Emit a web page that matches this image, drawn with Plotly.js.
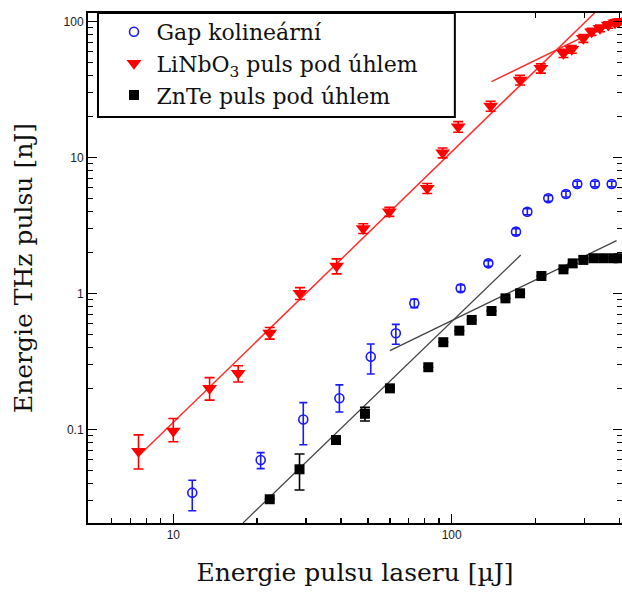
<!DOCTYPE html>
<html>
<head>
<meta charset="utf-8">
<script src="https://cdn.plot.ly/plotly-3.0.1.min.js"></script>
<style>html,body{margin:0;padding:0;background:#fff;}#chart{width:622px;height:592px;}</style>
</head>
<body>
<div id="chart"></div>
<script>
// Gap kolineární (blue open circles)
const gapX = [11.7, 20.6, 29.3, 39.5, 51.2, 63, 73.4, 107.7, 135.4, 170.2, 186.9, 222.3, 257.3, 282.5, 327, 375.6];
const gapY = [0.0342, 0.0594, 0.118, 0.169, 0.342, 0.508, 0.844, 1.09, 1.66, 2.84, 3.98, 5.0, 5.37, 6.36, 6.36, 6.36];
const gapErrPlus = [0.008, 0.008, 0.039, 0.043, 0.082, 0.083, 0.06, 0.06, 0.08, 0.15, 0.2, 0.25, 0.27, 0.3, 0.3, 0.3];
const gapErrMinus = [0.009, 0.008, 0.041, 0.035, 0.087, 0.086, 0.06, 0.06, 0.08, 0.15, 0.2, 0.25, 0.27, 0.3, 0.3, 0.3];

// LiNbO3 puls pod úhlem (red triangles)
const linboX = [7.5, 10.0, 13.5, 17.1, 22.2, 28.5, 38.6, 48.1, 59.7, 81.7, 92.8, 105.5, 138, 176, 209, 252, 270, 297, 318, 341, 365, 386, 398];
const linboY = [0.069, 0.097, 0.20, 0.258, 0.51, 1.0, 1.59, 3.0, 3.98, 5.92, 10.8, 16.8, 23.8, 37.0, 45.1, 58.2, 62.2, 75, 83.8, 88.8, 94, 97.7, 99.3];
const linboErrPlus = [0.022, 0.023, 0.04, 0.035, 0.05, 0.1, 0.2, 0.25, 0.3, 0.5, 0.9, 1.5, 2, 3, 3.5, 4, 4, 5, 5, 5, 5, 5, 5];
const linboErrMinus = [0.018, 0.016, 0.036, 0.035, 0.05, 0.1, 0.2, 0.25, 0.3, 0.5, 0.9, 1.5, 2, 3, 3.5, 4, 4, 5, 5, 5, 5, 5, 5];

// ZnTe puls pod úhlem (black squares)
const znteX = [22.2, 28.4, 38.4, 48.8, 60, 82.4, 93.3, 106.5, 118, 139, 156, 176, 210, 252, 272, 297, 323, 350, 380, 398];
const znteY = [0.0306, 0.0508, 0.0834, 0.13, 0.2, 0.286, 0.437, 0.531, 0.637, 0.741, 0.918, 1.0, 1.34, 1.5, 1.66, 1.76, 1.81, 1.81, 1.81, 1.81];
const znteErr = [0, 0.015, 0, 0.015, 0, 0, 0, 0, 0, 0, 0, 0, 0, 0, 0, 0, 0, 0, 0, 0];

// fitted power-law lines (end points)
const redFit1X = [7.6, 330], redFit1Y = [0.0652, 118];
const redFit2X = [139, 409], redFit2Y = [36, 106];
const blackFit1X = [17.8, 177], blackFit1Y = [0.0205, 1.91];
const blackFit2X = [60, 391], blackFit2Y = [0.379, 2.44];

// ticks
const xTickVals = [10, 100];
const xTickText = ['10', '100'];
const xMinorVals = [6, 7, 8, 9, 20, 30, 40, 50, 60, 70, 80, 90, 200, 300, 400];
const yTickVals = [0.1, 1, 10, 100];
const yTickText = ['0.1', '1', '10', '100'];
const yMinorVals = [0.03, 0.04, 0.05, 0.06, 0.07, 0.08, 0.09, 0.2, 0.3, 0.4, 0.5, 0.6, 0.7, 0.8, 0.9, 2, 3, 4, 5, 6, 7, 8, 9, 20, 30, 40, 50, 60, 70, 80, 90];

const serif = 'DejaVu Serif';
const sans = 'Liberation Sans';

const traces = [
  {x: redFit1X, y: redFit1Y, mode: 'lines', line: {color: '#ff3030', width: 1.5}, showlegend: false, hoverinfo: 'skip'},
  {x: redFit2X, y: redFit2Y, mode: 'lines', line: {color: '#ff3030', width: 1.5}, showlegend: false, hoverinfo: 'skip'},
  {x: blackFit1X, y: blackFit1Y, mode: 'lines', line: {color: '#444', width: 1.3}, showlegend: false, hoverinfo: 'skip'},
  {x: blackFit2X, y: blackFit2Y, mode: 'lines', line: {color: '#444', width: 1.3}, showlegend: false, hoverinfo: 'skip'},
  {x: gapX, y: gapY, mode: 'markers', name: 'Gap kolineární', legendgroup: 'g1',
   marker: {symbol: 'circle-open', size: 9, color: '#1a1aff', line: {width: 1.6, color: '#1a1aff'}},
   error_y: {type: 'data', symmetric: false, array: gapErrPlus, arrayminus: gapErrMinus, color: '#1a1aff', thickness: 1.6, width: 4}},
  {x: linboX, y: linboY, mode: 'markers', name: 'LiNbO<sub>3</sub> puls pod úhlem', legendgroup: 'g2',
   marker: {symbol: 'triangle-down', size: 13, color: '#ff0000'},
   error_y: {type: 'data', symmetric: false, array: linboErrPlus, arrayminus: linboErrMinus, color: '#ff0000', thickness: 1.6, width: 5}},
  {x: znteX, y: znteY, mode: 'markers', name: 'ZnTe puls pod úhlem', legendgroup: 'g3',
   marker: {symbol: 'square', size: 10, color: '#000'},
   error_y: {type: 'data', array: znteErr, color: '#000', thickness: 1.6, width: 5}}
];

const layout = {
  width: 622, height: 592,
  margin: {l: 88, r: 0, t: 13, b: 69},
  paper_bgcolor: '#fff', plot_bgcolor: '#fff',
  font: {family: serif, color: '#111'},
  showlegend: true,
  shapes: [{type: 'rect', xref: 'paper', yref: 'paper', x0: 0.0187, x1: 0.687, y0: 0.796, y1: 1,
            line: {color: '#000', width: 2}, fillcolor: '#fff', layer: 'above'}],
  legend: {x: 0.0440, y: 1.004, xanchor: 'left', yanchor: 'top', bgcolor: 'rgba(0,0,0,0)',
           borderwidth: 0, font: {family: serif, size: 22, color: '#111'},
           itemwidth: 35, traceorder: 'normal', tracegroupgap: 3},
  xaxis: {type: 'log', range: [0.6936, 2.6117], showgrid: false, zeroline: false,
          showline: true, linecolor: '#000', linewidth: 2, mirror: 'ticks',
          ticks: 'inside', ticklen: 9, tickwidth: 1.5, tickcolor: '#000',
          tickmode: 'array', tickvals: xTickVals, ticktext: xTickText,
          tickfont: {family: sans, size: 12, color: '#222'},
          minor: {tickmode: 'array', tickvals: xMinorVals, ticks: 'inside', ticklen: 5, tickwidth: 1.3, tickcolor: '#000', showgrid: false},
          title: {text: 'Energie pulsu laseru [µJ]', font: {family: serif, size: 25, color: '#111'}, standoff: 22}},
  yaxis: {type: 'log', range: [-1.689, 2.061], showgrid: false, zeroline: false,
          showline: true, linecolor: '#000', linewidth: 2, mirror: 'ticks',
          ticks: 'inside', ticklen: 9, tickwidth: 1.5, tickcolor: '#000',
          tickmode: 'array', tickvals: yTickVals, ticktext: yTickText,
          tickfont: {family: sans, size: 12, color: '#222'},
          minor: {tickmode: 'array', tickvals: yMinorVals, ticks: 'inside', ticklen: 5, tickwidth: 1.3, tickcolor: '#000', showgrid: false},
          title: {text: 'Energie THz pulsu [nJ]', font: {family: serif, size: 25, color: '#111'}, standoff: 24}}
};

Plotly.newPlot('chart', traces, layout, {staticPlot: true, displayModeBar: false});
</script>
</body>
</html>
